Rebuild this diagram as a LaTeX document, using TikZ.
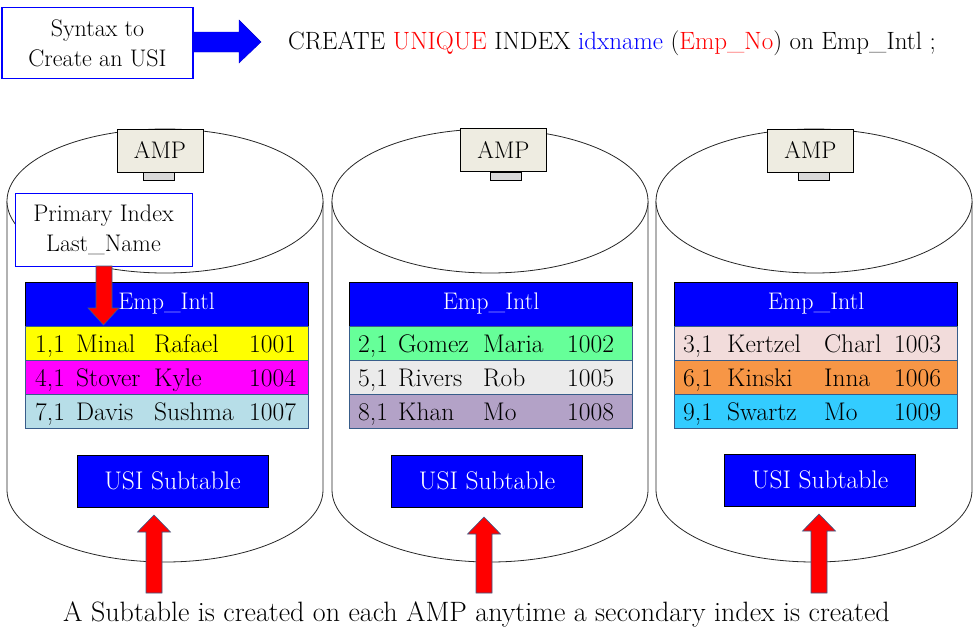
\documentclass[tikz,border=0pt]{standalone}
\usepackage{fontspec}
\usetikzlibrary{positioning}
\definecolor{ampfill}{HTML}{EEECE1}
\definecolor{tabfill}{HTML}{D9D9D9}
\definecolor{rowline}{HTML}{385D8A}
\definecolor{rowyellow}{HTML}{FFFF00}
\definecolor{rowmagenta}{HTML}{FF00FF}
\definecolor{rowlblue}{HTML}{B7DEE8}
\definecolor{rowgreen}{HTML}{66FF99}
\definecolor{rowgrey}{HTML}{EBEBEB}
\definecolor{rowpurple}{HTML}{B3A2C7}
\definecolor{rowpink}{HTML}{F2DCDB}
\definecolor{roworange}{HTML}{F79646}
\definecolor{rowcyan}{HTML}{33CCFF}
\begin{document}
\begin{tikzpicture}[x=1pt, y=-1pt,
    every node/.style={font=\fontsize{24}{30}\selectfont},
    cylline/.style={draw=black!85, line width=0.8pt},
    ampbox/.style={draw, fill=ampfill, minimum width=86pt, minimum height=43pt, inner sep=0pt},
    amptab/.style={draw, fill=tabfill, minimum width=31pt, minimum height=8pt, inner sep=0pt},
    infobox/.style={draw=blue, line width=1.2pt, fill=white, align=center, inner sep=0pt},
    hdr/.style={draw, fill=blue, text=white, minimum width=283pt, minimum height=44pt, inner sep=0pt},
    rowbox/.style={draw=rowline, minimum width=283pt, minimum height=34pt, inner sep=0pt},
    cell/.style={anchor=base west, inner sep=0pt, font=\fontsize{25.5}{30}\selectfont},
    usibox/.style={draw, fill=blue, text=white, minimum width=191pt, minimum height=52pt, inner sep=0pt,
      font=\fontsize{25.5}{30}\selectfont},
    redarr/.style={fill=red, draw=rowline, line width=0.6pt}
]
\useasboundingbox (0,0) rectangle (973,629);

% the three AMP cylinders
\foreach \cx in {165,490,814} {
  \draw[cylline, fill=white] (\cx-158,201) -- (\cx-158,490)
    arc[start angle=180, end angle=0, x radius=158, y radius=72] -- (\cx+158,201);
  \draw[cylline, fill=white] (\cx,201) ellipse[x radius=158, y radius=72];
}

% syntax line
\node[infobox, minimum width=191pt, minimum height=71pt] (syn) at (97.5,43) {Syntax to\\Create an USI};
\draw[fill=blue, draw=blue!80!black] (193,32) -- (239,32) -- (239,20) -- (261,42)
  -- (239,63) -- (239,52) -- (193,52) -- cycle;
\node[anchor=west, inner sep=0pt, font=\fontsize{25}{30}\selectfont] (sql) at (288,43)
  {CREATE \textcolor{red}{UNIQUE} INDEX
  \textcolor{blue}{idxname} (\textcolor{red}{Emp\_No}) on Emp\_Intl ;};

% AMP boxes
\node[ampbox] (amp1) at (160,150.5) {AMP};
\node[ampbox] (amp2) at (503.5,150) {AMP};
\node[ampbox] (amp3) at (810.5,150.5) {AMP};
\node[amptab, below=0pt of amp1, xshift=-1.5pt] (tab1) {};
\node[amptab, below=0pt of amp2, xshift=2.5pt] (tab2) {};
\node[amptab, below=0pt of amp3, xshift=3.5pt] (tab3) {};

% table on AMP 1
\node[hdr] (hd1) at (166.5,304) {Emp\_Intl};
\foreach \p/\q/\s/\n/\c [count=\r] in {{1,1}/Minal/Rafael/1001/rowyellow,
    {4,1}/Stover/Kyle/1004/rowmagenta, {7,1}/Davis/Sushma/1007/rowlblue} {
  \node[rowbox, fill=\c] (ra\r) at (166.5,{343+34*(\r-1)}) {};
  \node[cell] at (35,{352+34*(\r-1)}) {\p};
  \node[cell] at (76,{352+34*(\r-1)}) {\q};
  \node[cell] at (154,{352+34*(\r-1)}) {\s};
  \node[cell] at (249,{352+34*(\r-1)}) {\n};
}

% table on AMP 2
\node[hdr] (hd2) at (491,304) {Emp\_Intl};
\foreach \p/\q/\s/\n/\c [count=\r] in {{2,1}/Gomez/Maria/1002/rowgreen,
    {5,1}/Rivers/Rob/1005/rowgrey, {8,1}/Khan/Mo/1008/rowpurple} {
  \node[rowbox, fill=\c] (rb\r) at (491,{343+34*(\r-1)}) {};
  \node[cell] at (358,{352+34*(\r-1)}) {\p};
  \node[cell] at (398,{352+34*(\r-1)}) {\q};
  \node[cell] at (483,{352+34*(\r-1)}) {\s};
  \node[cell] at (567,{352+34*(\r-1)}) {\n};
}

% table on AMP 3
\node[hdr] (hd3) at (816,304) {Emp\_Intl};
\foreach \p/\q/\s/\n/\c [count=\r] in {{3,1}/Kertzel/Charl/1003/rowpink,
    {6,1}/Kinski/Inna/1006/roworange, {9,1}/Swartz/Mo/1009/rowcyan} {
  \node[rowbox, fill=\c] (rc\r) at (816,{343+34*(\r-1)}) {};
  \node[cell] at (683,{352+34*(\r-1)}) {\p};
  \node[cell] at (727,{352+34*(\r-1)}) {\q};
  \node[cell] at (824,{352+34*(\r-1)}) {\s};
  \node[cell] at (894,{352+34*(\r-1)}) {\n};
}

% primary index note
\node[infobox, line width=1pt, minimum width=177pt, minimum height=73pt] (pi) at (103.5,229.5) {Primary Index\\Last\_Name};
\draw[redarr] (96,266) -- (112,266) -- (112,308) -- (119,308) -- (103.5,325)
  -- (88,308) -- (96,308) -- cycle;

% USI subtables
\node[usibox] (usi1) at (172.5,481) {USI Subtable};
\node[usibox] (usi2) at (487,481) {USI Subtable};
\node[usibox] (usi3) at (820,480) {USI Subtable};
\foreach \ax/\ay in {154/515, 484/517, 819/514}
  \draw[redarr] (\ax,\ay) -- (\ax+16.5,\ay+17) -- (\ax+8,\ay+17) -- (\ax+8,593)
    -- (\ax-8,593) -- (\ax-8,\ay+17) -- (\ax-16.5,\ay+17) -- cycle;

\node[anchor=base, inner sep=0pt, font=\fontsize{28}{30}\selectfont] (note) at (476.5,621)
  {A Subtable is created on each AMP anytime a secondary index is created};
\end{tikzpicture}
\end{document}
